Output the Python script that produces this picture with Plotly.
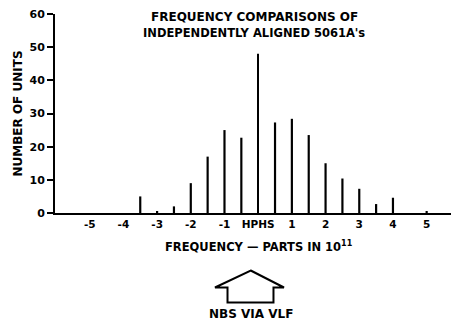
import plotly.graph_objects as go

# frequency offset bins (parts in 1e11) and counts
freq = [-3.5, -3.0, -2.5, -2.0, -1.5, -1.0, -0.5, 0.0, 0.5, 1.0, 1.5, 2.0, 2.5, 3.0, 3.5, 4.0, 5.0]
units = [5, 0.6, 2, 9, 17, 25, 22.7, 48, 27.3, 28.4, 23.5, 15, 10.4, 7.3, 2.7, 4.6, 0.5]
tick_vals = [-5, -4, -3, -2, -1, 0, 1, 2, 3, 4, 5]
tick_text = ["-5", "-4", "-3", "-2", "-1", "HPHS", "1", "2", "3", "4", "5"]

# page body has an 8px margin, so shrink the figure by that much
OFF = 8
W, H = 459 - OFF, 327 - OFF
L, R, T, B = 55 - OFF, 0, 14 - OFF, 114
pw, ph = W - L - R, H - T - B


def px(x):
    # reference pixel -> paper coords
    return (x - OFF - L) / pw


def py(y):
    return (H - B - (y - OFF)) / ph


FONT = "DejaVu Sans"
widths = [0.035 if f == 0 else 0.065 for f in freq]

fig = go.Figure(go.Bar(x=freq, y=units, width=widths,
                       marker=dict(color="black", line=dict(width=0))))

# hollow arrow pointing up at the NBS reference
arrow = [(250.7, 270.5), (284, 287.5), (273.5, 287.5), (273.5, 302.5),
         (227.5, 302.5), (227.5, 287.5), (215, 287.5)]
path = "M " + " L ".join("%.4f,%.4f" % (px(a), py(b)) for a, b in arrow) + " Z"

txt = dict(family=FONT, size=11, color="black", weight="bold")


def label(s, x, y, size):
    return dict(text=s, x=px(x), y=py(y), xref="paper", yref="paper",
                xanchor="center", yanchor="middle", showarrow=False,
                font=dict(txt, size=size))


fig.update_layout(
    width=W, height=H,
    margin=dict(l=L, r=R, t=T, b=B, autoexpand=False),
    paper_bgcolor="white", plot_bgcolor="white",
    showlegend=False,
    font=txt,
    xaxis=dict(range=[-6.03, 5.96], tickvals=tick_vals, ticktext=tick_text,
               showgrid=False, zeroline=False, showline=True, automargin=False,
               linecolor="black", linewidth=2, ticks="",
               ticklabeloverflow="allow",
               tickfont=dict(txt, size=10.5)),
    yaxis=dict(range=[0, 60], tickvals=[0, 10, 20, 30, 40, 50, 60],
               showgrid=False, zeroline=False, showline=True, automargin=False,
               linecolor="black", linewidth=2, ticks="outside", ticklen=6,
               tickwidth=1.5, tickcolor="black",
               ticklabeloverflow="allow",
               tickfont=dict(txt, size=11),
               title=dict(text="NUMBER OF UNITS", standoff=4,
                          font=dict(txt, size=12))),
    shapes=[dict(type="path", xref="paper", yref="paper", path=path,
                 line=dict(color="black", width=2), fillcolor="white")],
    annotations=[
        label("FREQUENCY COMPARISONS OF", 254, 17, 12),
        label("INDEPENDENTLY ALIGNED 5061A's", 254, 33, 11.5),
        label("FREQUENCY \u2014 PARTS IN 10<sup>11</sup>", 259, 246, 11.5),
        label("NBS VIA VLF", 251, 314, 12),
    ],
)

fig.write_html("out.html")
